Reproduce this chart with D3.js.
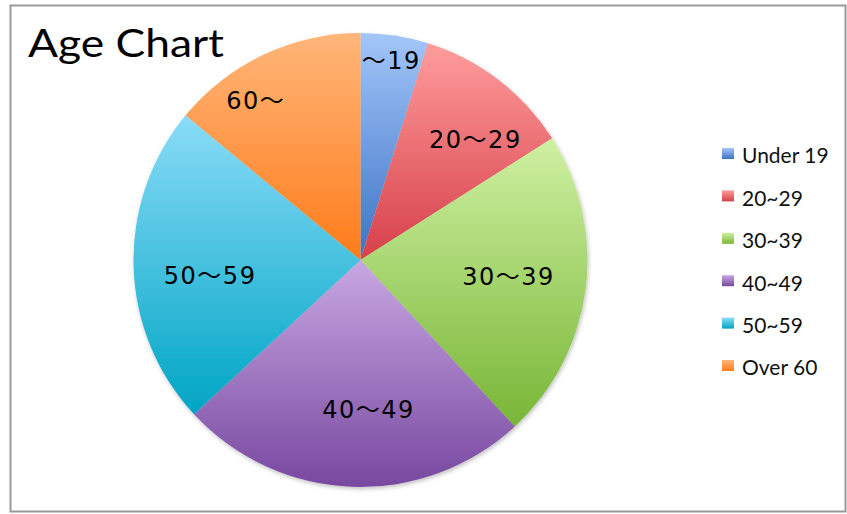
<!DOCTYPE html>
<html>
<head>
<meta charset="utf-8">
<script src="https://cdn.jsdelivr.net/npm/d3@7"></script>
<style>
  html, body { margin: 0; padding: 0; background: #fff; }
  svg { display: block; }
</style>
</head>
<body>
<div id="container"></div>
<script>
// data (percent of total)
const categories = ["Under 19", "20~29", "30~39", "40~49", "50~59", "Over 60"];
const sliceLabels = ["〜19", "20〜29", "30〜39", "40〜49", "50〜59", "60〜"];
const values = [4.8, 11.2, 22.1, 25.0, 22.9, 14.0];

// gradient stops per slice: light top, dark bottom
const topColors = ["#a3c6f8", "#ff9c9c", "#cff0a2", "#c8a8e2", "#8adcf8", "#ffb67a"];
const bottomColors = ["#3d72c6", "#d6404a", "#78b636", "#7848a0", "#00a5c5", "#ff7c1a"];

// label placement: distance as fraction of radius, and angle shift (deg) from slice middle
const labelRad = [0.90, 0.74, 0.655, 0.65, 0.665, 0.85];
const labelShift = [0, 5.7, -1.9, -5.3, -3.3, -7.7];

const width = 847;
const height = 514;
const cx = 360.5, cy = 260, radius = 227;

const svg = d3.select("#container")
    .append("svg")
    .attr("width", width)
    .attr("height", height);

const defs = svg.append("defs");

categories.forEach((c, i) => {
    const g = defs.append("linearGradient")
        .attr("id", "grad" + i)
        .attr("x1", 0).attr("y1", 0)
        .attr("x2", 0).attr("y2", 1);
    g.append("stop").attr("offset", "0%").attr("stop-color", topColors[i]);
    g.append("stop").attr("offset", "100%").attr("stop-color", bottomColors[i]);
});

const shadow = defs.append("filter")
    .attr("id", "shadow")
    .attr("x", "-10%").attr("y", "-10%")
    .attr("width", "120%").attr("height", "120%");
shadow.append("feDropShadow")
    .attr("dx", 1).attr("dy", 2)
    .attr("stdDeviation", 2)
    .attr("flood-color", "#000")
    .attr("flood-opacity", 0.25);

// frame
svg.append("rect")
    .attr("x", 10.5).attr("y", 5.5)
    .attr("width", 835).attr("height", 506)
    .attr("fill", "#fff")
    .attr("stroke", "#9a9a9a")
    .attr("stroke-width", 2);

// title
svg.append("text")
    .attr("x", 28)
    .attr("y", 57)
    .attr("font-family", "Lato, 'Open Sans', sans-serif")
    .attr("font-size", "39px")
    .attr("fill", "#000")
    .attr("textLength", 196)
    .attr("lengthAdjust", "spacingAndGlyphs")
    .text("Age Chart");

const pie = d3.pie().sort(null).value(d => d);
const arcs = pie(values);
const arc = d3.arc().innerRadius(0).outerRadius(radius);

const pieG = svg.append("g")
    .attr("transform", `translate(${cx},${cy})`);

pieG.append("g")
    .attr("filter", "url(#shadow)")
    .selectAll("path")
    .data(arcs)
    .join("path")
    .attr("d", arc)
    .attr("fill", (d, i) => `url(#grad${i})`);

pieG.selectAll(".slice-label")
    .data(arcs)
    .join("text")
    .attr("class", "slice-label")
    .attr("transform", (d, i) => {
        const r = radius * labelRad[i];
        const a = (d.startAngle + d.endAngle) / 2 + labelShift[i] * Math.PI / 180;
        return `translate(${Math.sin(a) * r},${-Math.cos(a) * r})`;
    })
    .attr("dy", "0.44em")
    .attr("text-anchor", "middle")
    .attr("font-family", "'DejaVu Sans', 'Noto Sans CJK JP', sans-serif")
    .attr("font-size", "24px")
    .attr("letter-spacing", "1.5px")
    .attr("fill", "#000")
    .text((d, i) => sliceLabels[i]);

// legend
const legendY = d3.scalePoint()
    .domain(categories)
    .range([156, 368]);

const legend = svg.append("g")
    .selectAll("g")
    .data(categories)
    .join("g")
    .attr("transform", d => `translate(722,${legendY(d)})`);

legend.append("rect")
    .attr("x", 0).attr("y", -8)
    .attr("width", 12).attr("height", 11)
    .attr("fill", (d, i) => `url(#grad${i})`);

legend.append("text")
    .attr("x", 20)
    .attr("y", 0)
    .attr("dy", "0.35em")
    .attr("font-family", "Lato, 'Open Sans', sans-serif")
    .attr("font-size", "21px")
    .attr("fill", "#111")
    .text(d => d);
</script>
</body>
</html>
